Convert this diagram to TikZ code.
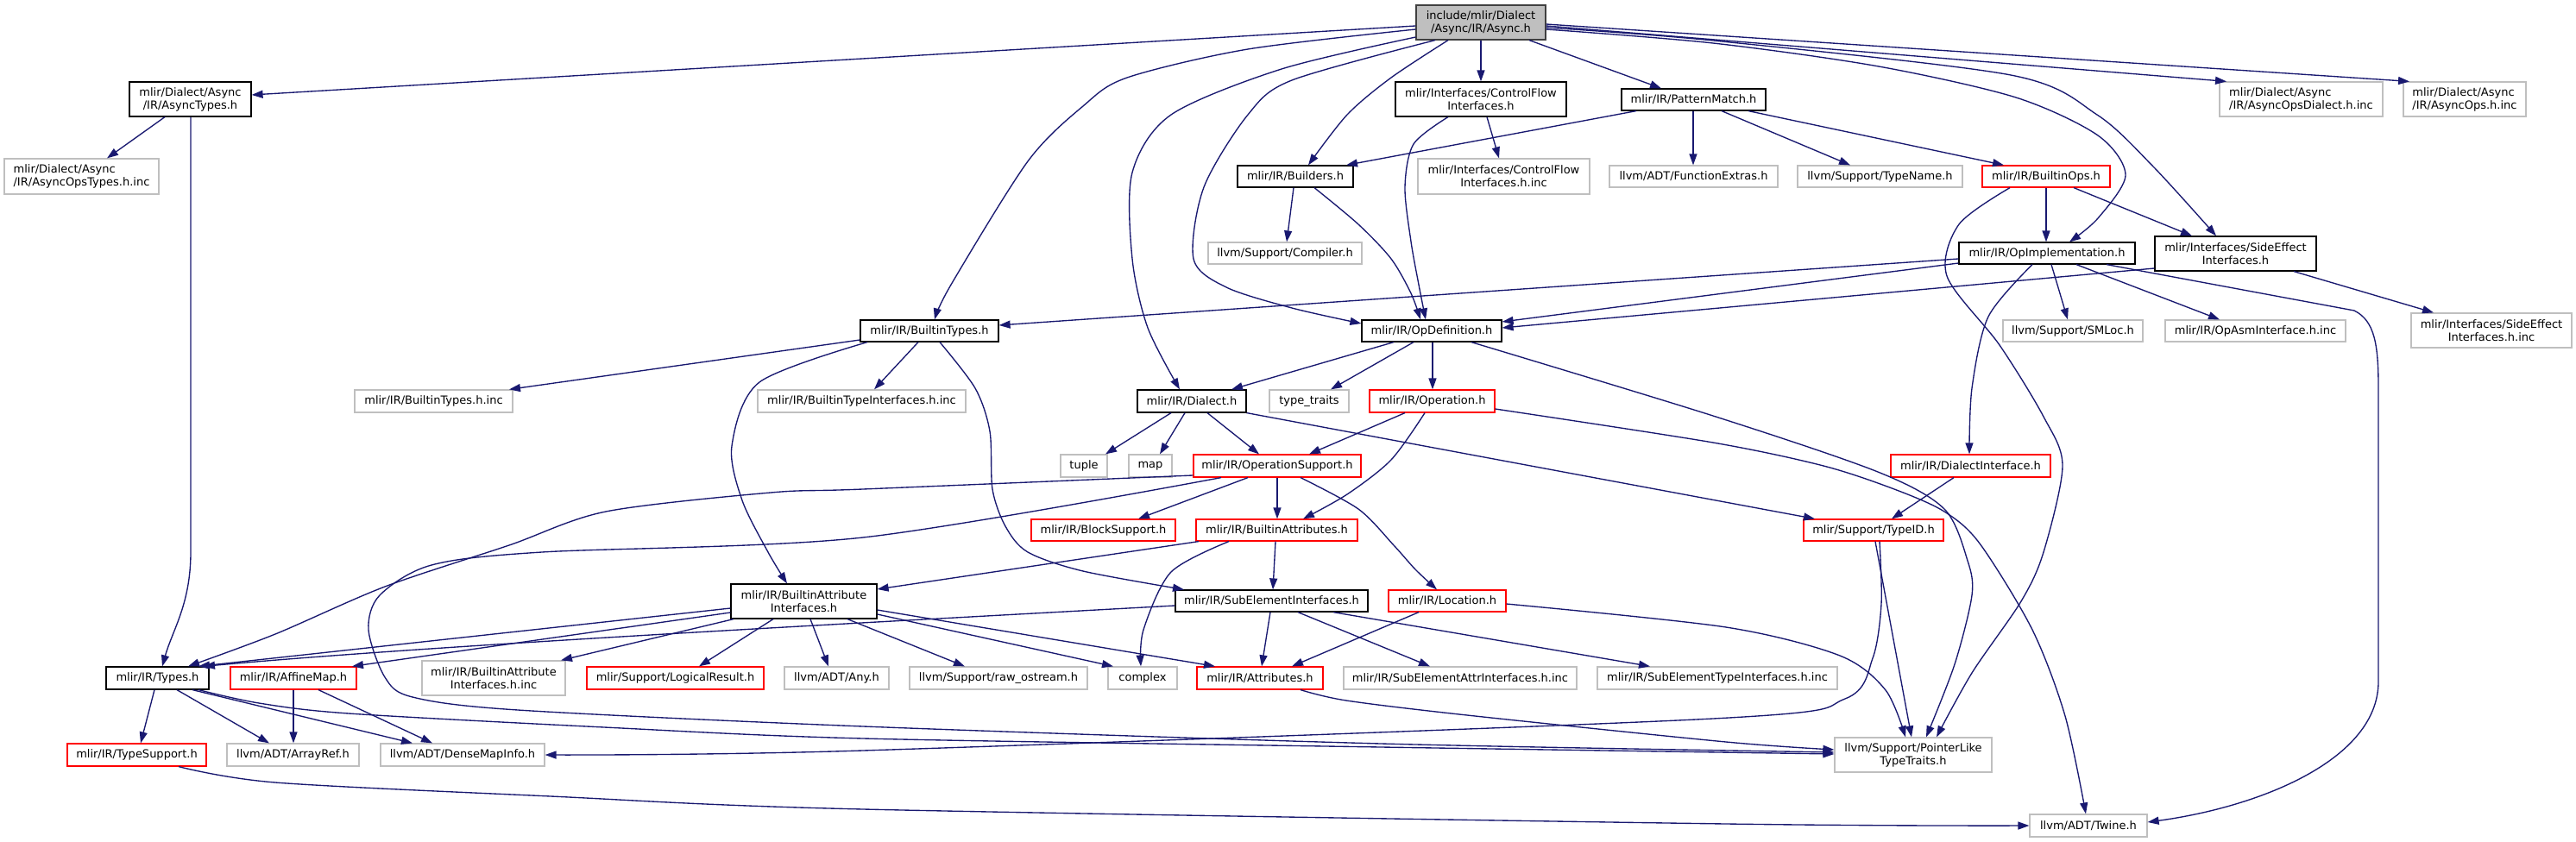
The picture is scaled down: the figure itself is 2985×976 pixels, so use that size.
\documentclass[tikz,border=0pt]{standalone}
\usepackage{fontspec}
\setmainfont{DejaVu Sans}
\usetikzlibrary{arrows.meta}
\definecolor{edgec}{HTML}{191970}
\definecolor{greyseventyfive}{HTML}{BFBFBF}
\newcommand{\dxnode}[7]{\node[#1, minimum width={(#5-#3)*1pt}, minimum height={(#6-#4)*1pt}] (#2) at ({(#3+#5)/2},{(#4+#6)/2}) {#7};}
\tikzset{
  box/.style={rectangle, inner sep=1pt, line width=1.2pt, fill=white, align=center, text=black,
    font=\fontsize{13}{15}\selectfont},
  nb/.style={box, draw=black},
  ng/.style={box, draw=greyseventyfive},
  ngl/.style={box, draw=greyseventyfive, align=left},
  nr/.style={box, draw=red},
  nroot/.style={box, draw=black!75, fill=greyseventyfive},
  edge/.style={draw=edgec, line width=1.35pt, -{Triangle[length=13pt,width=9pt]}},
}
\begin{document}
\begin{tikzpicture}[x=1pt,y=-1pt]
\useasboundingbox (0,0) rectangle (2985,976);
% nodes
\dxnode{nroot}{async}{1641}{6}{1791}{46}{include/mlir/Dialect\\/Async/IR/Async.h}
\dxnode{nb}{asynctypes}{150}{95}{291}{135}{mlir/Dialect/Async\\/IR/AsyncTypes.h}
\dxnode{ngl}{asyncopstypes}{5}{184}{184}{225}{mlir/Dialect/Async\\/IR/AsyncOpsTypes.h.inc}
\dxnode{nb}{cfi}{1617}{95}{1815}{135}{mlir/Interfaces/ControlFlow\\Interfaces.h}
\dxnode{nb}{pm}{1879}{103}{2046}{128}{mlir/IR/PatternMatch.h}
\dxnode{nb}{builders}{1434}{192}{1568}{217}{mlir/IR/Builders.h}
\dxnode{ng}{cfiinc}{1643}{184}{1842}{225}{mlir/Interfaces/ControlFlow\\Interfaces.h.inc}
\dxnode{ng}{funcextras}{1865}{192}{2060}{217}{llvm/ADT/FunctionExtras.h}
\dxnode{ng}{typename}{2083}{192}{2274}{217}{llvm/Support/TypeName.h}
\dxnode{nr}{builtinops}{2297}{192}{2445}{217}{mlir/IR/BuiltinOps.h}
\dxnode{ngl}{opsdialect}{2572}{95}{2761}{135}{mlir/Dialect/Async\\/IR/AsyncOpsDialect.h.inc}
\dxnode{ngl}{asyncops}{2785}{95}{2927}{135}{mlir/Dialect/Async\\/IR/AsyncOps.h.inc}
\dxnode{ng}{compiler}{1400}{281}{1578}{306}{llvm/Support/Compiler.h}
\dxnode{nb}{opimpl}{2270}{281}{2474}{306}{mlir/IR/OpImplementation.h}
\dxnode{nb}{sideeff}{2497}{274}{2684}{314}{mlir/Interfaces/SideEffect\\Interfaces.h}
\dxnode{nb}{builtintypes}{997}{371}{1157}{396}{mlir/IR/BuiltinTypes.h}
\dxnode{nb}{opdef}{1578}{371}{1740}{396}{mlir/IR/OpDefinition.h}
\dxnode{ng}{btinc}{411}{452}{594}{478}{mlir/IR/BuiltinTypes.h.inc}
\dxnode{ng}{btiinc}{878}{452}{1119}{478}{mlir/IR/BuiltinTypeInterfaces.h.inc}
\dxnode{nb}{dialect}{1318}{452}{1444}{478}{mlir/IR/Dialect.h}
\dxnode{ng}{typetraits}{1471}{452}{1563}{478}{type\_traits}
\dxnode{nr}{operation}{1587}{452}{1732}{478}{mlir/IR/Operation.h}
\dxnode{ng}{tuple}{1229}{527}{1283}{553}{tuple}
\dxnode{ng}{map}{1308}{527}{1358}{553}{map}
\dxnode{nr}{opsupport}{1383}{527}{1577}{553}{mlir/IR/OperationSupport.h}
\dxnode{nr}{blocksupport}{1195}{602}{1362}{627}{mlir/IR/BlockSupport.h}
\dxnode{nr}{builtinattrs}{1386}{602}{1573}{627}{mlir/IR/BuiltinAttributes.h}
\dxnode{ng}{smloc}{2321}{371}{2483}{396}{llvm/Support/SMLoc.h}
\dxnode{ng}{opasm}{2509}{371}{2718}{396}{mlir/IR/OpAsmInterface.h.inc}
\dxnode{ng}{sideeffinc}{2794}{363}{2980}{403}{mlir/Interfaces/SideEffect\\Interfaces.h.inc}
\dxnode{nr}{dialectiface}{2191}{527}{2376}{553}{mlir/IR/DialectInterface.h}
\dxnode{nr}{typeid}{2090}{602}{2252}{627}{mlir/Support/TypeID.h}
\dxnode{nb}{bai}{847}{677}{1016}{717}{mlir/IR/BuiltinAttribute\\Interfaces.h}
\dxnode{nb}{types}{123}{773}{242}{799}{mlir/IR/Types.h}
\dxnode{nr}{affinemap}{267}{773}{413}{799}{mlir/IR/AffineMap.h}
\dxnode{ng}{baiinc}{489}{766}{655}{806}{mlir/IR/BuiltinAttribute\\Interfaces.h.inc}
\dxnode{nr}{logicalresult}{680}{773}{885}{799}{mlir/Support/LogicalResult.h}
\dxnode{ng}{any}{909}{773}{1030}{799}{llvm/ADT/Any.h}
\dxnode{ng}{rawostream}{1054}{773}{1260}{799}{llvm/Support/raw\_ostream.h}
\dxnode{ng}{complex}{1284}{773}{1364}{799}{complex}
\dxnode{nr}{attributes}{1387}{773}{1533}{799}{mlir/IR/Attributes.h}
\dxnode{ng}{seattrinc}{1557}{773}{1827}{799}{mlir/IR/SubElementAttrInterfaces.h.inc}
\dxnode{ng}{setypeinc}{1851}{773}{2129}{799}{mlir/IR/SubElementTypeInterfaces.h.inc}
\dxnode{nb}{sei}{1362}{684}{1585}{709}{mlir/IR/SubElementInterfaces.h}
\dxnode{nr}{location}{1609}{684}{1745}{709}{mlir/IR/Location.h}
\dxnode{nr}{typesupport}{78}{862}{239}{888}{mlir/IR/TypeSupport.h}
\dxnode{ng}{arrayref}{263}{862}{416}{888}{llvm/ADT/ArrayRef.h}
\dxnode{ng}{densemap}{441}{862}{631}{888}{llvm/ADT/DenseMapInfo.h}
\dxnode{ng}{pointerlike}{2126}{855}{2308}{895}{llvm/Support/PointerLike\\TypeTraits.h}
\dxnode{ng}{twine}{2352}{944}{2488}{970}{llvm/ADT/Twine.h}
% edges from Async.h
\draw[edge] (async.west |- 0,30) -- (asynctypes.east |- 0,110);
\draw[edge] plot[smooth] coordinates {(async.west |- 0,34) (1446,57) (1306,90) (1255,123) (1191,187) (1102,330) (builtintypes.north -| 1083,0)};
\draw[edge] plot[smooth] coordinates {(async.west |- 0,43) (1485,80) (1357,133) (1312,200) (1312,300) (1330,380) (dialect.north -| 1367,0)};
\draw[edge] plot[smooth] coordinates {(async.south -| 1663,0) (1497,93) (1446,133) (1395,217) (1383,300) (1421,333) (1497,357) (opdef.west |- 0,375)};
\draw[edge] plot[smooth] coordinates {(async.south -| 1678,0) (1612,90) (1561,133) (builders.north -| 1516,0)};
\draw[edge] (async.south -| 1716,0) -- (cfi.north -| 1716,0);
\draw[edge] (async.south -| 1772,0) -- (pm.north -| 1925,0);
\draw[edge] plot[smooth] coordinates {(async.east |- 0,34) (1985,50) (2177,77) (2336,113) (2431,157) (2463,203) (2431,253) (opimpl.north -| 2398,0)};
\draw[edge] plot[smooth] coordinates {(async.east |- 0,32) (1985,47) (2330,87) (2430,133) (2495,193) (sideeff.north -| 2568,0)};
\draw[edge] (async.east |- 0,30) -- (opsdialect.north -| 2580,0);
\draw[edge] (async.east |- 0,28) -- (asyncops.north -| 2792,0);
% AsyncTypes
\draw[edge] (asynctypes.south -| 191,0) -- (asyncopstypes.north -| 124,0);
\draw[edge] (asynctypes.south -| 221,0) -- (221,640) .. controls (221,700) and (200,730) .. (types.north -| 188,0);
% ControlFlow
\draw[edge] (cfi.south -| 1723,0) -- (cfiinc.north -| 1737,0);
\draw[edge] plot[smooth] coordinates {(cfi.south -| 1678,0) (1638,167) (1628,217) (1635,280) (1644,330) (opdef.north -| 1652,0)};
% PatternMatch
\draw[edge] (pm.south -| 1896,0) -- (builders.north -| 1560,0);
\draw[edge] (pm.south -| 1962,0) -- (funcextras.north -| 1962,0);
\draw[edge] (pm.south -| 1995,0) -- (typename.north -| 2144,0);
\draw[edge] (pm.south -| 2026,0) -- (builtinops.north -| 2322,0);
% Builders
\draw[edge] (builders.south -| 1499,0) -- (compiler.north -| 1491,0);
\draw[edge] plot[smooth] coordinates {(builders.south -| 1523,0) (1574,260) (1612,300) (1635,340) (opdef.north -| 1646,0)};
% BuiltinOps
\draw[edge] (builtinops.south -| 2371,0) -- (opimpl.north -| 2371,0);
\draw[edge] (builtinops.south -| 2403,0) -- (sideeff.north -| 2540,0);
\draw[edge] plot[smooth] coordinates {(builtinops.south -| 2329,0) (2270,260) (2256,320) (2317,400) (2368,483) (2390,540) (2368,640) (2342,697) (2285,780) (pointerlike.north -| 2244,0)};
% OpImplementation
\draw[edge] (opimpl.west |- 0,300) -- (builtintypes.east |- 0,377);
\draw[edge] (opimpl.west |- 0,305) -- (opdef.east |- 0,373);
\draw[edge] (opimpl.south -| 2377,0) -- (smloc.north -| 2396,0);
\draw[edge] (opimpl.south -| 2406,0) -- (opasm.north -| 2572,0);
\draw[edge] plot[smooth] coordinates {(opimpl.south -| 2355,0) (2304,367) (2285,450) (dialectiface.north -| 2282,0)};
\draw[edge] (opimpl.south -| 2441,0) -- (2728,360) .. controls (2752,372) and (2756,400) .. (2756,450) -- (2756,790) .. controls (2756,880) and (2620,935) .. (twine.east |- 0,953);
% SideEffect
\draw[edge] (sideeff.west |- 0,311) -- (opdef.east |- 0,380);
\draw[edge] (sideeff.south -| 2658,0) -- (sideeffinc.north -| 2820,0);
% OpDefinition
\draw[edge] (opdef.south -| 1615,0) -- (dialect.north -| 1427,0);
\draw[edge] (opdef.south -| 1638,0) -- (typetraits.north -| 1542,0);
\draw[edge] (opdef.south -| 1660,0) -- (operation.north -| 1660,0);
\draw[edge] plot[smooth] coordinates {(opdef.south -| 1705,0) (1985,482) (2176,547) (2253,590) (2280,650) (2285,690) (2265,770) (pointerlike.north -| 2232,0)};
% BuiltinTypes
\draw[edge] (builtintypes.west |- 0,394) -- (btinc.north -| 590,0);
\draw[edge] (builtintypes.south -| 1064,0) -- (btiinc.north -| 1013,0);
\draw[edge] plot[smooth] coordinates {(builtintypes.south -| 1005,0) (880,443) (848,517) (860,580) (890,640) (bai.north -| 912,0)};
\draw[edge] plot[smooth] coordinates {(builtintypes.south -| 1089,0) (1130,450) (1147,500) (1150,567) (1165,610) (1191,640) (1255,662) (sei.north -| 1372,0)};
% Dialect
\draw[edge] (dialect.south -| 1357,0) -- (tuple.north -| 1281,0);
\draw[edge] (dialect.south -| 1373,0) -- (map.north -| 1344,0);
\draw[edge] (dialect.south -| 1399,0) -- (opsupport.north -| 1459,0);
\draw[edge] (dialect.south east) -- (typeid.north -| 2103,0);
% Operation
\draw[edge] (operation.south -| 1628,0) -- (opsupport.north -| 1517,0);
\draw[edge] plot[smooth] coordinates {(operation.south -| 1651,0) (1612,533) (1561,573) (builtinattrs.north -| 1510,0)};
\draw[edge] plot[smooth] coordinates {(operation.east |- 0,474) (1985,513) (2113,540) (2195,567) (2253,593) (2294,630) (2355,730) (2393,830) (twine.north -| 2417,0)};
% OperationSupport
\draw[edge] plot[smooth] coordinates {(opsupport.west |- 0,551) (1000,567) (893,571) (702,593) (590,632) (446,680) (319,735) (types.north -| 218,0)};
\draw[edge] (opsupport.south -| 1446,0) -- (blocksupport.north -| 1319,0);
\draw[edge] (opsupport.south -| 1480,0) -- (builtinattrs.north -| 1480,0);
\draw[edge] plot[smooth] coordinates {(opsupport.south -| 1507,0) (1574,590) (1615,632) (1640,660) (location.north -| 1665,0)};
\draw[edge] plot[smooth] coordinates {(opsupport.south -| 1415,0) (1000,623) (628,640) (500,655) (440,690) (427,730) (446,785) (478,808) (600,823) (1000,842) (1600,862) (pointerlike.west |- 0,872)};
% BuiltinAttributes
\draw[edge] (builtinattrs.south -| 1389,0) -- (bai.east |- 0,683);
\draw[edge] plot[smooth] coordinates {(builtinattrs.south -| 1424,0) (1357,663) (1325,730) (complex.north -| 1322,0)};
\draw[edge] (builtinattrs.south -| 1478,0) -- (sei.north -| 1475,0);
% BuiltinAttributeInterfaces
\draw[edge] (bai.west |- 0,705) -- (types.north -| 230,0);
\draw[edge] (bai.west |- 0,710) -- (affinemap.north -| 408,0);
\draw[edge] (bai.south -| 850,0) -- (baiinc.north -| 650,0);
\draw[edge] (bai.south -| 896,0) -- (logicalresult.north -| 810,0);
\draw[edge] (bai.south -| 939,0) -- (any.north -| 960,0);
\draw[edge] (bai.south -| 982,0) -- (rawostream.north -| 1118,0);
\draw[edge] (bai.east |- 0,712) -- (complex.north -| 1290,0);
\draw[edge] (bai.east |- 0,707) -- (attributes.north -| 1408,0);
% SubElementInterfaces
\draw[edge] (sei.west |- 0,702) .. controls (1000,722) and (500,748) .. (types.north -| 236,0);
\draw[edge] (sei.south -| 1472,0) -- (attributes.north -| 1462,0);
\draw[edge] (sei.south -| 1504,0) -- (seattrinc.north -| 1657,0);
\draw[edge] (sei.south -| 1545,0) -- (setypeinc.north -| 1912,0);
% Location
\draw[edge] (location.south -| 1644,0) -- (attributes.north -| 1497,0);
\draw[edge] plot[smooth] coordinates {(location.east |- 0,700) (2000,727) (2132,760) (2185,800) (pointerlike.north -| 2208,0)};
% Attributes
\draw[edge] plot[smooth] coordinates {(attributes.south -| 1507,0) (1560,812) (1700,829) (2000,860) (pointerlike.west |- 0,869)};
% Types
\draw[edge] (types.south -| 179,0) -- (typesupport.north -| 163,0);
\draw[edge] (types.south -| 205,0) -- (arrayref.north -| 312,0);
\draw[edge] (types.south -| 223,0) -- (densemap.north -| 478,0);
\draw[edge] plot[smooth] coordinates {(types.south -| 230,0) (300,815) (404,827) (700,843) (1000,856) (1600,866) (pointerlike.west |- 0,874)};
% AffineMap
\draw[edge] (affinemap.south -| 340,0) -- (arrayref.north -| 340,0);
\draw[edge] (affinemap.south -| 369,0) -- (densemap.north -| 501,0);
% TypeSupport
\draw[edge] plot[smooth] coordinates {(typesupport.south -| 207,0) (319,907) (638,923) (1000,938) (2000,955) (twine.west |- 0,957)};
% TypeID
\draw[edge] (typeid.south -| 2173,0) -- (pointerlike.north -| 2215,0);
\draw[edge] plot[smooth] coordinates {(typeid.south -| 2178,0) (2180,700) (2170,763) (2138,810) (1985,833) (1000,870) (densemap.east |- 0,875)};
% DialectInterface
\draw[edge] (dialectiface.south -| 2264,0) -- (typeid.north -| 2192,0);
\end{tikzpicture}
\end{document}
